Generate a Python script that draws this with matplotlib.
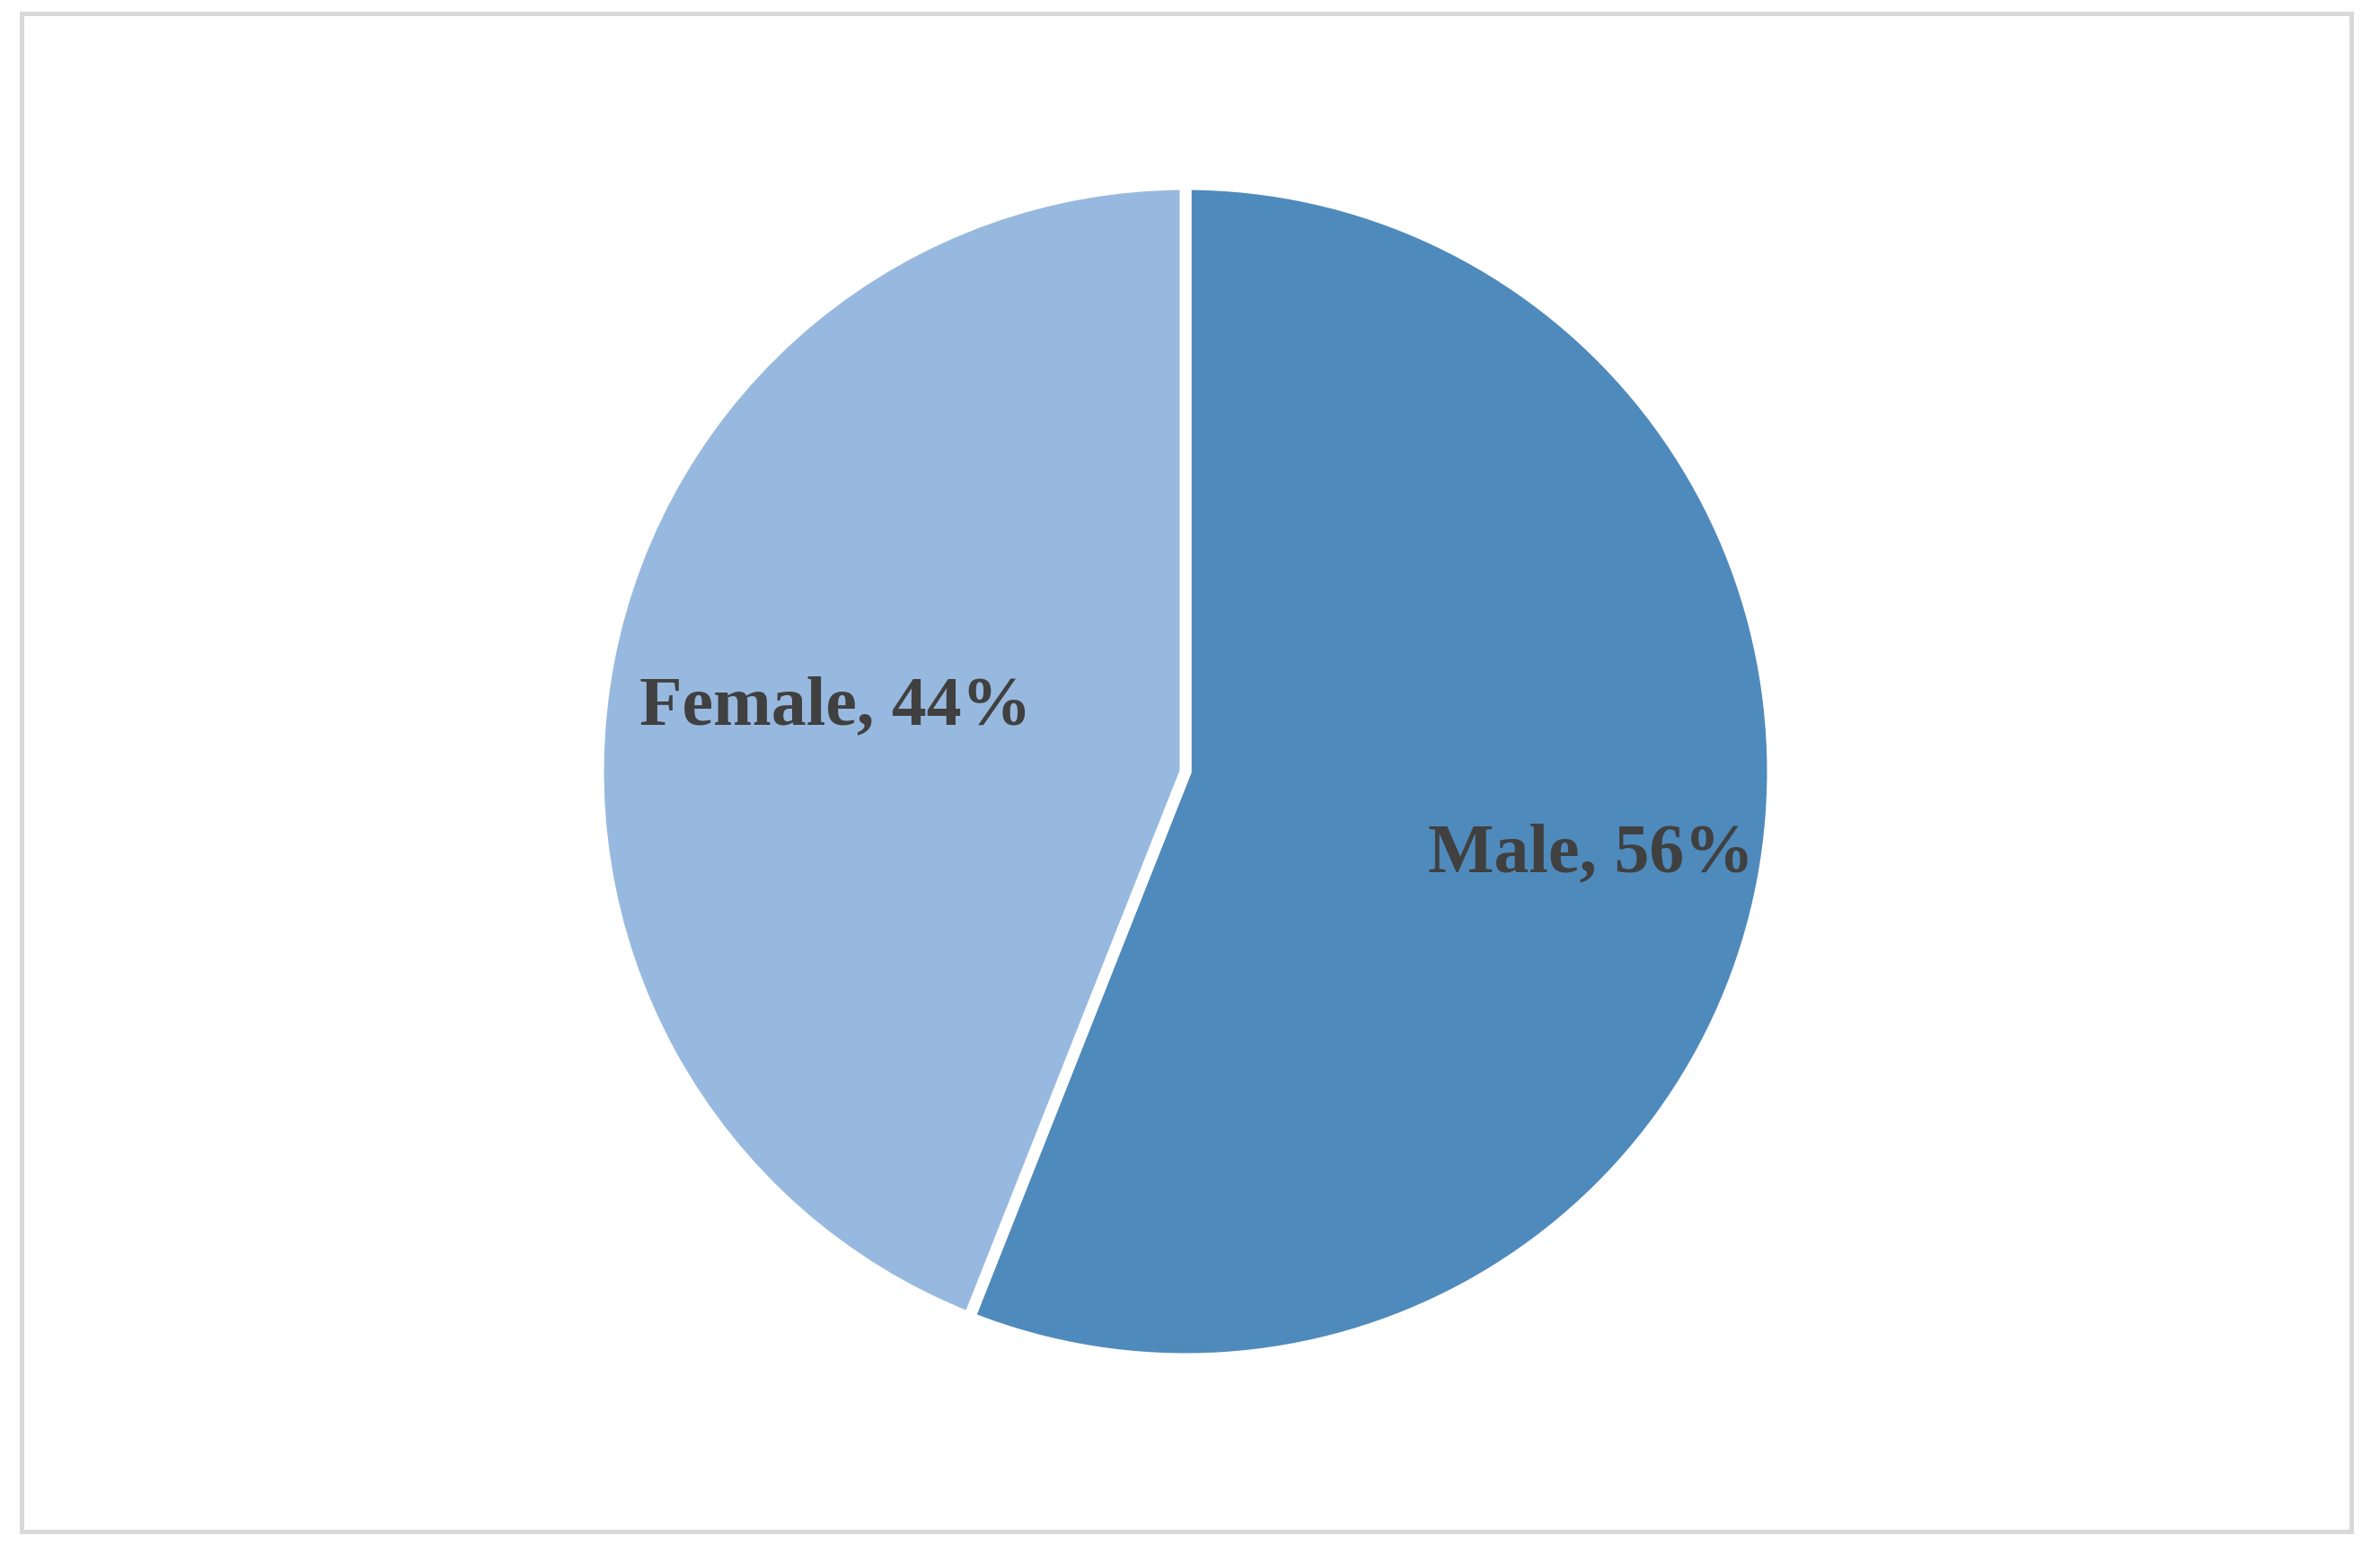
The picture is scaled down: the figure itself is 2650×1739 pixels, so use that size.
import matplotlib
matplotlib.use('Agg')
import matplotlib.pyplot as plt
from matplotlib.patches import Rectangle

# data
labels = ['Male', 'Female']
shares = [56, 44]
colors = ['#4f8abc', '#98b9df']

W, H, dpi = 2650, 1739, 200
fig = plt.figure(figsize=(W / dpi, H / dpi), dpi=dpi)
fig.patch.set_facecolor('white')

# pie placement (pixels): centre (1320, 859), radius ~654
cx, cy, r = 1320, 859, 654
ax = fig.add_axes([(cx - r) / W, 1 - (cy + r) / H, 2 * r / W, 2 * r / H])
ax.pie(shares, colors=colors, startangle=90, counterclock=False, radius=1,
       wedgeprops=dict(edgecolor='white', linewidth=4.7))
ax.set_xlim(-1, 1)
ax.set_ylim(-1, 1)
ax.set_aspect('equal')
ax.axis('off')

# data labels
lab_pos = [(0.690, -0.170), (-0.596, 0.080)]
for lab, s, (x, y) in zip(labels, shares, lab_pos):
    ax.text(x, y, f'{lab}, {s}%', ha='center', va='baseline',
            fontsize=28, fontweight='bold', color='#404040',
            family=['Liberation Serif', 'DejaVu Serif'])

# chart area border
fig.patches.append(Rectangle((23.5 / W, 1 - 1704.5 / H), (2617.5 - 23.5) / W,
                             (1704.5 - 15) / H, transform=fig.transFigure,
                             fill=False, edgecolor='#d9d9d9', linewidth=1.8))

fig.savefig('out.png', dpi=dpi, facecolor='white')
